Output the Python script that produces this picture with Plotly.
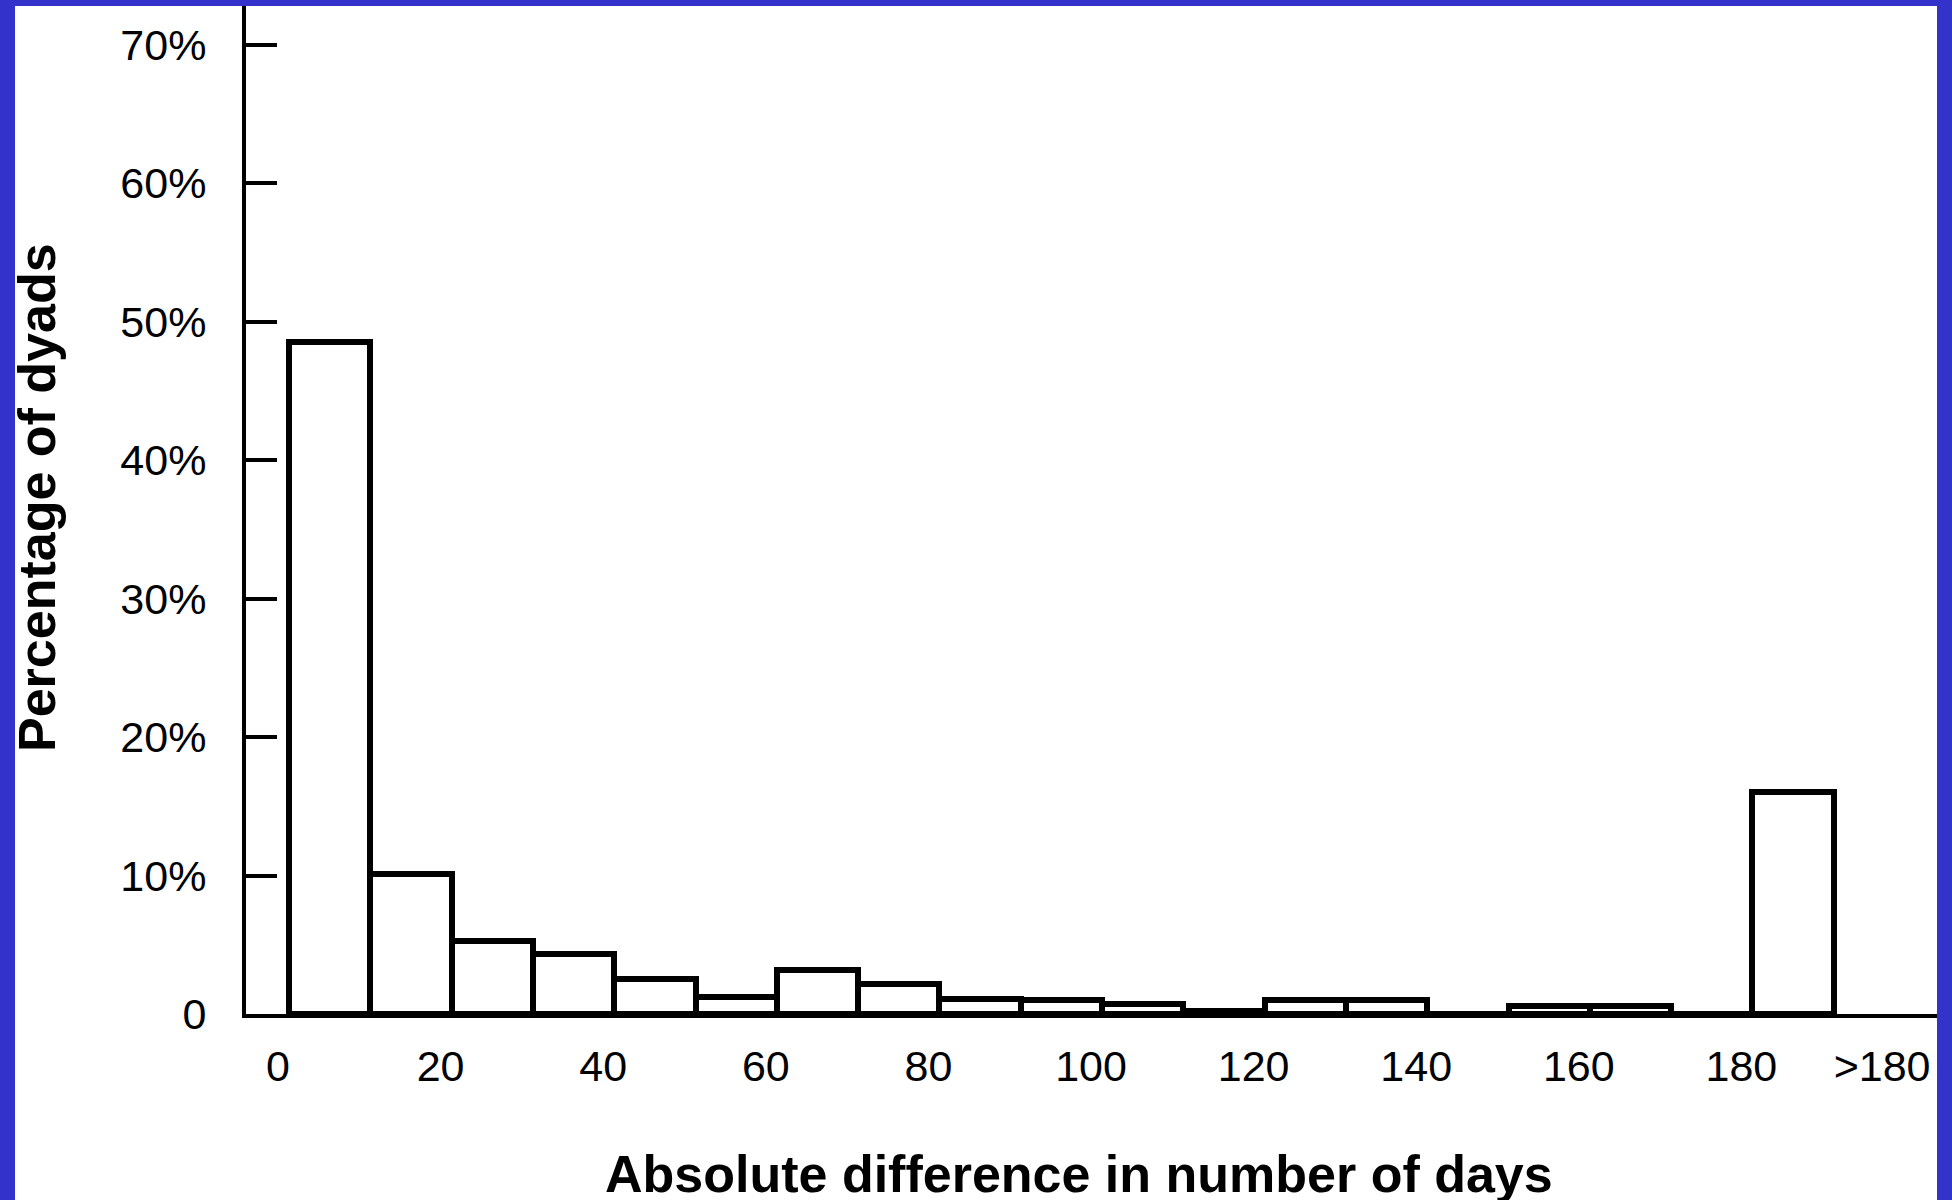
import plotly.graph_objects as go

# Data
bin_left = [0, 10, 20, 30, 40, 50, 60, 70, 80, 90, 100, 110, 120, 130, 140, 150, 160, 170, 180]
percent = [48.5, 10.1, 5.3, 4.3, 2.5, 1.2, 3.2, 2.2, 1.1, 1.0, 0.7, 0.2, 1.0, 1.0, 0.0, 0.6, 0.6, 0.0, 16.0]
bin_width = 10

x_tickvals = [0, 20, 40, 60, 80, 100, 120, 140, 160, 180, 197.3]
x_ticktext = ["0", "20", "40", "60", "80", "100", "120", "140", "160", "180", ">180"]
y_tickvals = [0, 10, 20, 30, 40, 50, 60, 70]
y_ticktext = ["0", "10%", "20%", "30%", "40%", "50%", "60%", "70%"]

x_title = "Absolute difference in number of days"
y_title = "Percentage of dyads"

W, H = 1952, 1200
L, R, T, B = 246, 1937, 6, 1014  # plot area in pixels

def px_x(p):
    return (p - L) / (R - L)

def px_y(p):
    return (B - p) / (B - T)

centers = [b + bin_width / 2 for b in bin_left]

fig = go.Figure()
fig.add_trace(go.Bar(
    x=centers, y=percent, width=[bin_width] * len(centers),
    marker=dict(color="white", line=dict(color="black", width=6)),
    showlegend=False, hoverinfo="skip",
))

font_tick = dict(family="Liberation Sans, Arial, sans-serif", size=43, color="black")
font_title = dict(family="Liberation Sans, Arial, sans-serif", size=52, color="black")

fig.update_layout(
    width=W, height=H,
    margin=dict(l=L, r=W - R, t=T, b=H - B, pad=0),
    paper_bgcolor="#3333cc",
    plot_bgcolor="white",
    bargap=0,
    xaxis=dict(
        range=[(L - 289) / 8.13, (R - 289) / 8.13],
        tickmode="array", tickvals=x_tickvals, ticktext=x_ticktext,
        ticks="", showgrid=False, zeroline=False,
        showline=True, linecolor="black", linewidth=4,
        tickfont=font_tick, ticklabelshift=-11, ticklabelstandoff=11,
    ),
    yaxis=dict(
        range=[0, (B - T) / 13.85],
        tickmode="array", tickvals=y_tickvals, ticktext=y_ticktext,
        ticks="inside", ticklen=31, tickwidth=4, tickcolor="black",
        showgrid=False, zeroline=False,
        showline=True, linecolor="black", linewidth=4,
        tickfont=font_tick, ticklabelstandoff=27,
    ),
    shapes=[dict(
        type="rect", xref="paper", yref="paper",
        x0=px_x(15), x1=px_x(1937), y0=px_y(1200), y1=px_y(6),
        fillcolor="white", line=dict(width=0), layer="below",
    )],
    annotations=[
        dict(text="<b>" + x_title + "</b>", xref="paper", yref="paper",
             x=px_x(1079), y=px_y(1174), xanchor="center", yanchor="middle",
             showarrow=False, font=font_title),
        dict(text="<b>" + y_title + "</b>", xref="paper", yref="paper",
             x=px_x(37), y=px_y(498), xanchor="center", yanchor="middle",
             textangle=-90, showarrow=False, font=font_title),
    ],
)

fig.write_html(
    "out.html",
    config={"displayModeBar": False},
    post_script="document.body.style.margin='0';document.body.style.overflow='hidden';",
)
